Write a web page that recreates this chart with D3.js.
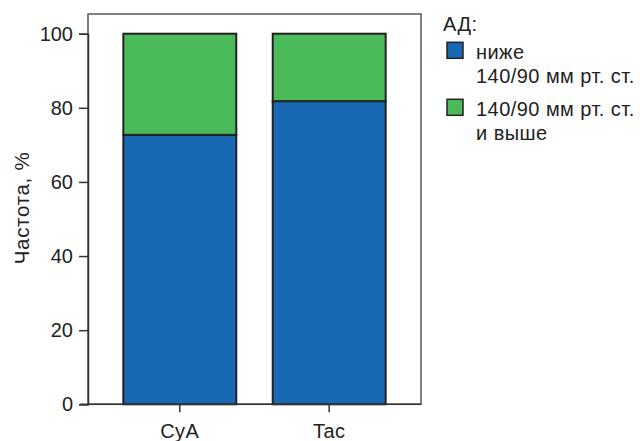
<!DOCTYPE html>
<html><head><meta charset="utf-8">
<script src="https://cdn.jsdelivr.net/npm/d3@7"></script>
<style>
html,body{margin:0;padding:0;background:#fff;}
text{font-family:"Liberation Sans",Arial,sans-serif;fill:#222;}
</style></head>
<body>
<svg id="c" width="640" height="441"></svg>
<script>
const categories = ["CyA", "Tac"];
const seriesNames = ["ниже 140/90 мм рт. ст.", "140/90 мм рт. ст. и выше"];
const below = [72.7, 81.8];
const above = [27.3, 18.2];
const yTicks = [0, 20, 40, 60, 80, 100];
const colors = ["#1868b4", "#4bba5a"];

const svg = d3.select("#c");
const L = 88, R = 421, T = 14, B = 404.3;
const x = d3.scaleBand().domain(categories).range([L, R]).paddingInner(0.244).paddingOuter(0.2365);
const y = d3.scaleLinear().domain([0, 100]).range([B, 33.7]);

const data = categories.map((c, i) => ({cat: c, v0: below[i], v1: above[i]}));
const stack = d3.stack().keys(["v0", "v1"])(data);

// frame
svg.append("rect").attr("x", L).attr("y", T).attr("width", R - L).attr("height", B - T)
  .attr("fill", "none").attr("stroke", "#555").attr("stroke-width", 1.5);

const g = svg.append("g");
stack.forEach((s, k) => {
  g.selectAll(null).data(s).join("rect")
    .attr("x", d => x(d.data.cat))
    .attr("width", x.bandwidth())
    .attr("y", d => y(d[1]))
    .attr("height", d => y(d[0]) - y(d[1]))
    .attr("fill", colors[k])
    .attr("stroke", "#222").attr("stroke-width", 2);
});

// axes
const ya = svg.append("g").attr("transform", `translate(${L},0)`)
  .call(d3.axisLeft(y).tickValues(yTicks).tickSize(9).tickPadding(6));
const xa = svg.append("g").attr("transform", `translate(0,${B})`)
  .call(d3.axisBottom(x).tickSize(8).tickPadding(11.5));
[ya, xa].forEach(a => {
  a.select(".domain").attr("stroke", "#333").attr("stroke-width", 1.5);
  a.selectAll(".tick line").attr("stroke", "#333").attr("stroke-width", 1.5);
  a.selectAll(".tick text").attr("font-size", 20).attr("fill", "#222")
   .attr("font-family", "'Liberation Sans',Arial,sans-serif");
});
xa.selectAll(".tick text").attr("letter-spacing", 0.5);
xa.select(".domain").attr("d", `M${L-8},0H${R}`);

// y label
svg.append("text").attr("transform", "translate(29,208) rotate(-90)")
  .attr("text-anchor", "middle").attr("font-size", 20.5).attr("letter-spacing", 0.7).text("Частота, %");

// legend
const lg = svg.append("g");
lg.append("text").attr("x", 443).attr("y", 31).attr("font-size", 20).attr("letter-spacing", 0.45).text("АД:");
const legendLines = [["ниже", "140/90 мм рт. ст."], ["140/90 мм рт. ст.", "и выше"]];
const legY = [42.3, 99.3];
legendLines.forEach((lines, i) => {
  lg.append("rect").attr("x", 447).attr("y", legY[i]).attr("width", 16).attr("height", 16)
    .attr("fill", colors[i]).attr("stroke", "#222").attr("stroke-width", 1.5);
  lines.forEach((t, j) => {
    lg.append("text").attr("x", 476).attr("y", legY[i] + 16.5 + j * 24)
      .attr("font-size", 20).attr("letter-spacing", 0.45).text(t);
  });
});
</script>
</body></html>
